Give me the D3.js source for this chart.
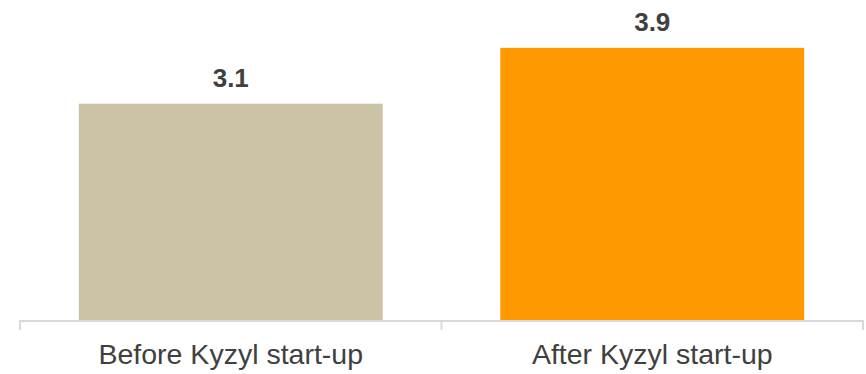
<!DOCTYPE html>
<html>
<head>
<meta charset="utf-8">
<script src="https://cdn.jsdelivr.net/npm/d3@7"></script>
<style>
	body { margin: 0; background: #fff; }
	svg text { font-family: "Liberation Sans", Arial, sans-serif; }
</style>
</head>
<body>
<svg id="chart" width="866" height="374"></svg>
<script>
// chart data
var categories = ["Before Kyzyl start-up", "After Kyzyl start-up"];
var values = [3.1, 3.9];
var barColors = ["#CCC3A7", "#FF9900"];

var svg = d3.select("#chart");
var baseY = 320;

// scales
var x = d3.scaleBand()
	.domain(categories)
	.range([20, 863])
	.paddingInner(0.279)
	.paddingOuter(0.1395);

var y = d3.scaleLinear()
	.domain([0, 4.5])
	.range([baseY, 6]);

// bars
svg.selectAll(".bar").data(values)
	.enter()
	.append("rect")
	.attr("class", "bar")
	.attr("x", function(d, i){ return x(categories[i]); })
	.attr("y", function(d){ return y(d); })
	.attr("width", x.bandwidth())
	.attr("height", function(d){ return baseY - y(d); })
	.attr("fill", function(d, i){ return barColors[i]; });

// value labels
svg.selectAll(".val").data(values)
	.enter()
	.append("text")
	.attr("class", "val")
	.attr("x", function(d, i){ return x(categories[i]) + x.bandwidth()/2; })
	.attr("y", function(d){ return y(d) - 17; })
	.attr("text-anchor", "middle")
	.attr("font-size", 26)
	.attr("font-weight", "bold")
	.attr("fill", "#404040")
	.text(function(d){ return d.toFixed(1); });

// axis line with ticks at band boundaries
var axisColor = "#D9D9D9";
var bounds = [20, (x(categories[0]) + x.bandwidth() + x(categories[1]))/2, 863];
svg.append("line")
	.attr("x1", 20).attr("x2", 863)
	.attr("y1", baseY + 1).attr("y2", baseY + 1)
	.attr("stroke", axisColor).attr("stroke-width", 2);
svg.selectAll(".tick").data(bounds)
	.enter()
	.append("line")
	.attr("class", "tick")
	.attr("x1", function(d){ return d; }).attr("x2", function(d){ return d; })
	.attr("y1", baseY).attr("y2", baseY + 10)
	.attr("stroke", axisColor).attr("stroke-width", 2);

// category labels
svg.selectAll(".cat").data(categories)
	.enter()
	.append("text")
	.attr("class", "cat")
	.attr("x", function(d){ return x(d) + x.bandwidth()/2; })
	.attr("y", 364)
	.attr("text-anchor", "middle")
	.attr("font-size", 28.5)
	.attr("fill", "#404040")
	.text(function(d){ return d; });
</script>
</body>
</html>
